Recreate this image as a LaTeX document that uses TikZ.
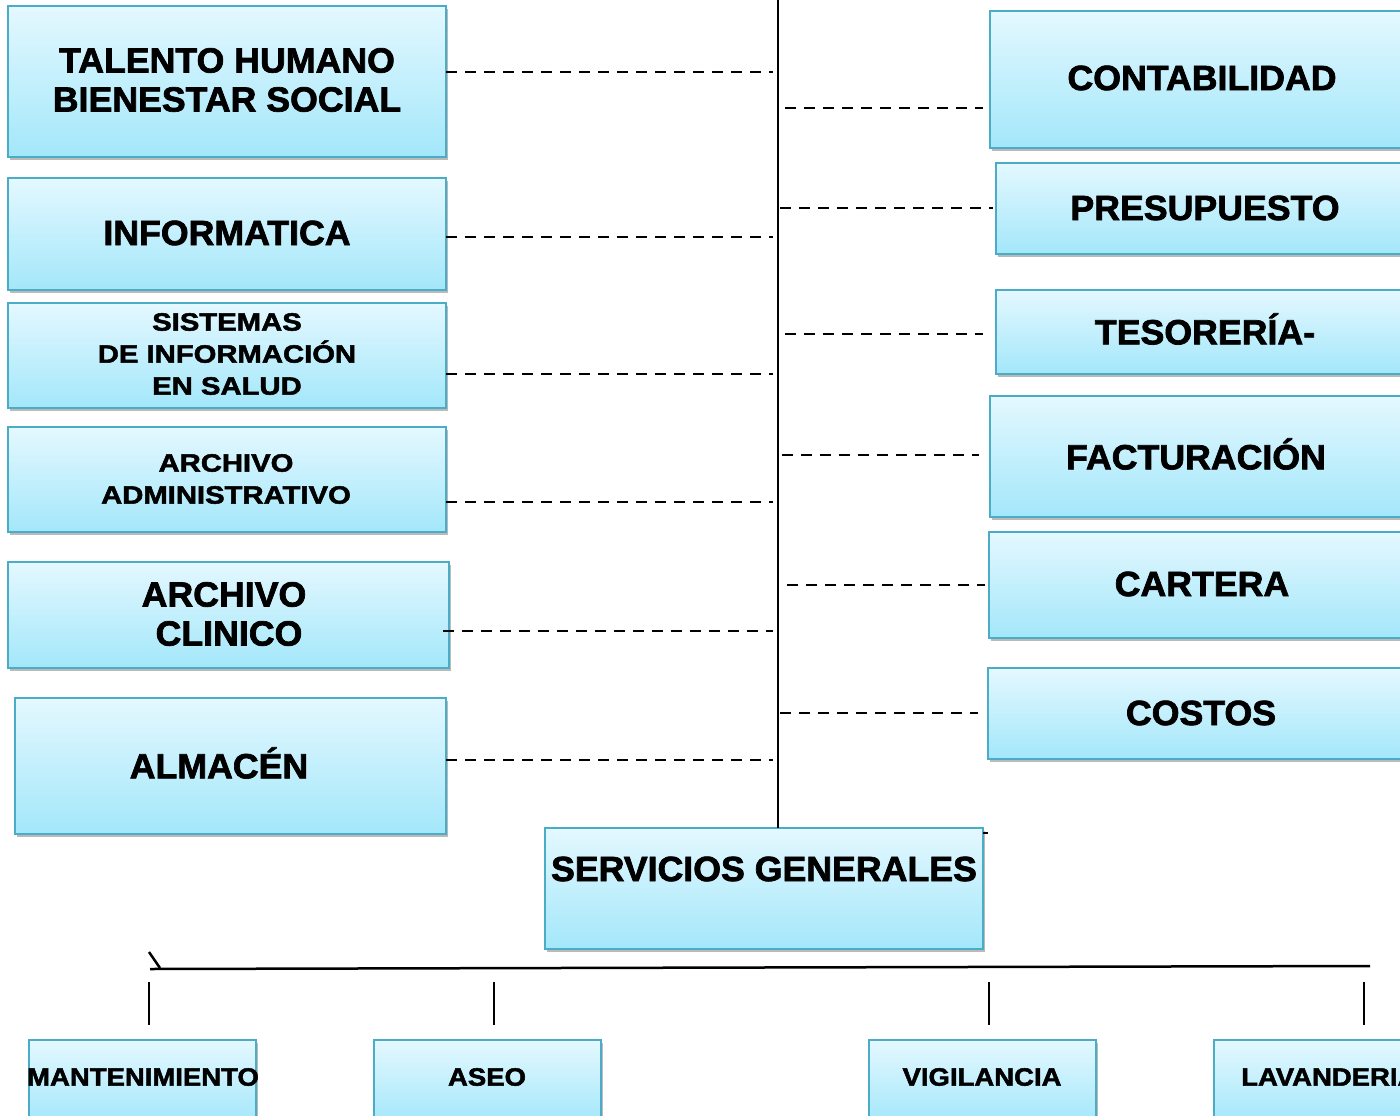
\documentclass[tikz,border=0pt]{standalone}
\usepackage{fontspec}
\setmainfont{Liberation Sans}
\newfontfamily\hv{Liberation Sans Bold}[FakeBold=2,FakeStretch=1.02]
\newfontfamily\hvw{Liberation Sans Bold}[FakeBold=2,FakeStretch=1.17]
\newfontfamily\hvb{Liberation Sans Bold}[FakeBold=2,FakeStretch=1.10]
\usetikzlibrary{shadows,calc}
\definecolor{bordc}{RGB}{75,172,198}
\definecolor{topc}{RGB}{228,248,255}
\definecolor{botc}{RGB}{163,231,250}
\tikzset{
  box/.style={draw=bordc, line width=2.5pt, top color=topc, bottom color=botc,
    inner sep=0pt, outer sep=0pt,
    drop shadow={shadow xshift=1.5pt, shadow yshift=-3pt, opacity=0.45, fill=black!60}},
  lbl/.style={inner sep=0pt, align=center, font=\hv\fontsize{35}{39}\selectfont},
  lbls/.style={inner sep=0pt, align=center, font=\hvw\fontsize{25}{32}\selectfont},
  lblb/.style={inner sep=0pt, align=center, font=\hvb\fontsize{25}{28}\selectfont},
  dsh/.style={line width=2.2pt, dash pattern=on 11pt off 8pt},
  solid line/.style={line width=2.5pt},
}
\begin{document}
\begin{tikzpicture}[x=1pt,y=-1pt]
\useasboundingbox (0,0) rectangle (1400,1116);
\clip (0,0) rectangle (1400,1116);
% left column boxes
\node[box, minimum width=438pt, minimum height=151pt] (tal) at (227,81.5) {};
\node[box, minimum width=438pt, minimum height=112pt] (inf) at (227,234) {};
\node[box, minimum width=438pt, minimum height=105pt] (sis) at (227,355.5) {};
\node[box, minimum width=438pt, minimum height=105pt] (arc) at (227,479.5) {};
\node[box, minimum width=441pt, minimum height=106pt] (cli) at (228.5,615) {};
\node[box, minimum width=431pt, minimum height=136pt] (alm) at (230.5,766) {};
% right column boxes
\node[box, minimum width=425pt, minimum height=137pt] (con) at (1202.5,79.5) {};
\node[box, minimum width=419pt, minimum height=91pt] (pre) at (1205.5,208.5) {};
\node[box, minimum width=419pt, minimum height=84pt] (tes) at (1205.5,332) {};
\node[box, minimum width=425pt, minimum height=121pt] (fac) at (1202.5,456.5) {};
\node[box, minimum width=426pt, minimum height=106pt] (car) at (1202,585) {};
\node[box, minimum width=427pt, minimum height=91pt] (cos) at (1201.5,713.5) {};
% servicios generales
\node[box, minimum width=438pt, minimum height=121pt] (ser) at (764,888.5) {};
% bottom boxes
\node[box, minimum width=227pt, minimum height=84pt] (man) at (142.5,1082) {};
\node[box, minimum width=227pt, minimum height=84pt] (ase) at (487.5,1082) {};
\node[box, minimum width=227pt, minimum height=84pt] (vig) at (982.5,1082) {};
\node[box, minimum width=227pt, minimum height=84pt] (lav) at (1327.5,1082) {};
% labels
\node[lbl] (ttal) at (227,80) {TALENTO HUMANO\\BIENESTAR SOCIAL};
\node[lbl] (tinf) at (227,233) {INFORMATICA};
\node[lbls] (tsis) at (227,354) {SISTEMAS\\DE INFORMACIÓN\\EN SALUD};
\node[lbls] (tarc) at (226,479) {ARCHIVO\\ADMINISTRATIVO};
\node[lbl] (tcli) at (224,614) {ARCHIVO\\\hspace*{10pt}CLINICO};
\node[lbl] (talm) at (219,763) {ALMACÉN};
\node[lbl] (tcon) at (1202,78) {CONTABILIDAD};
\node[lbl] (tpre) at (1205,208) {PRESUPUESTO};
\node[lbl] (ttes) at (1205,329) {TESORERÍA-};
\node[lbl] (tfac) at (1196,454) {FACTURACIÓN};
\node[lbl] (tcar) at (1202,584) {CARTERA};
\node[lbl] (tcos) at (1201,713) {COSTOS};
\node[lbl] (tser) at (764,869) {SERVICIOS GENERALES};
\node[lblb] (tman) at (143,1077) {MANTENIMIENTO};
\node[lblb] (tase) at (487,1077) {ASEO};
\node[lblb] (tvig) at (982,1077) {VIGILANCIA};
\node[lblb, anchor=west] (tlav) at (1241,1077) {LAVANDERIA};
% vertical main line
\coordinate (vtop) at (778,0);
\draw[solid line] (vtop) -- (ser.north -| vtop);
\coordinate (sertick) at (988,833);
\draw[line width=1.5pt] (ser.east |- sertick) -- (sertick);
% left dashed connectors
\coordinate (l1) at (773,72);
\coordinate (l2) at (773,237);
\coordinate (l3) at (773,374);
\coordinate (l4) at (773,502);
\coordinate (l5) at (773,631);
\coordinate (l6) at (773,760);
\draw[dsh] (tal.east |- l1) -- (l1);
\draw[dsh] (inf.east |- l2) -- (l2);
\draw[dsh] (sis.east |- l3) -- (l3);
\draw[dsh] (arc.east |- l4) -- (l4);
\draw[dsh] ($(cli.east |- l5)+(-6,0)$) -- (l5);
\draw[dsh] (alm.east |- l6) -- (l6);
% right dashed connectors
\coordinate (r1) at (785,108);
\coordinate (r2) at (780,208);
\coordinate (r3) at (785,334);
\coordinate (r4) at (782,455);
\coordinate (r5) at (787,585);
\coordinate (r6) at (780,713);
\draw[dsh] (r1) -- ($(con.west |- r1)+(-7,0)$);
\draw[dsh] (r2) -- ($(pre.west |- r2)+(-3,0)$);
\draw[dsh] (r3) -- ($(tes.west |- r3)+(-13,0)$);
\draw[dsh] (r4) -- ($(fac.west |- r4)+(-11,0)$);
\draw[dsh] (r5) -- ($(car.west |- r5)+(-4,0)$);
\draw[dsh] (r6) -- ($(cos.west |- r6)+(-10,0)$);
% bottom bus
\coordinate (busl) at (150,969);
\coordinate (busr) at (1370,966);
\draw[solid line] (busl) -- (busr);
\coordinate (tk1) at (149,952);
\coordinate (tk2) at (160,968);
\draw[solid line] (tk1) -- (tk2);
\coordinate (s1) at (149,982);
\coordinate (s2) at (494,982);
\coordinate (s3) at (989,982);
\coordinate (s4) at (1364,982);
\draw[solid line] (s1) -- (149,1025);
\draw[solid line] (s2) -- (494,1025);
\draw[solid line] (s3) -- (989,1025);
\draw[solid line] (s4) -- (1364,1025);
\end{tikzpicture}
\end{document}
